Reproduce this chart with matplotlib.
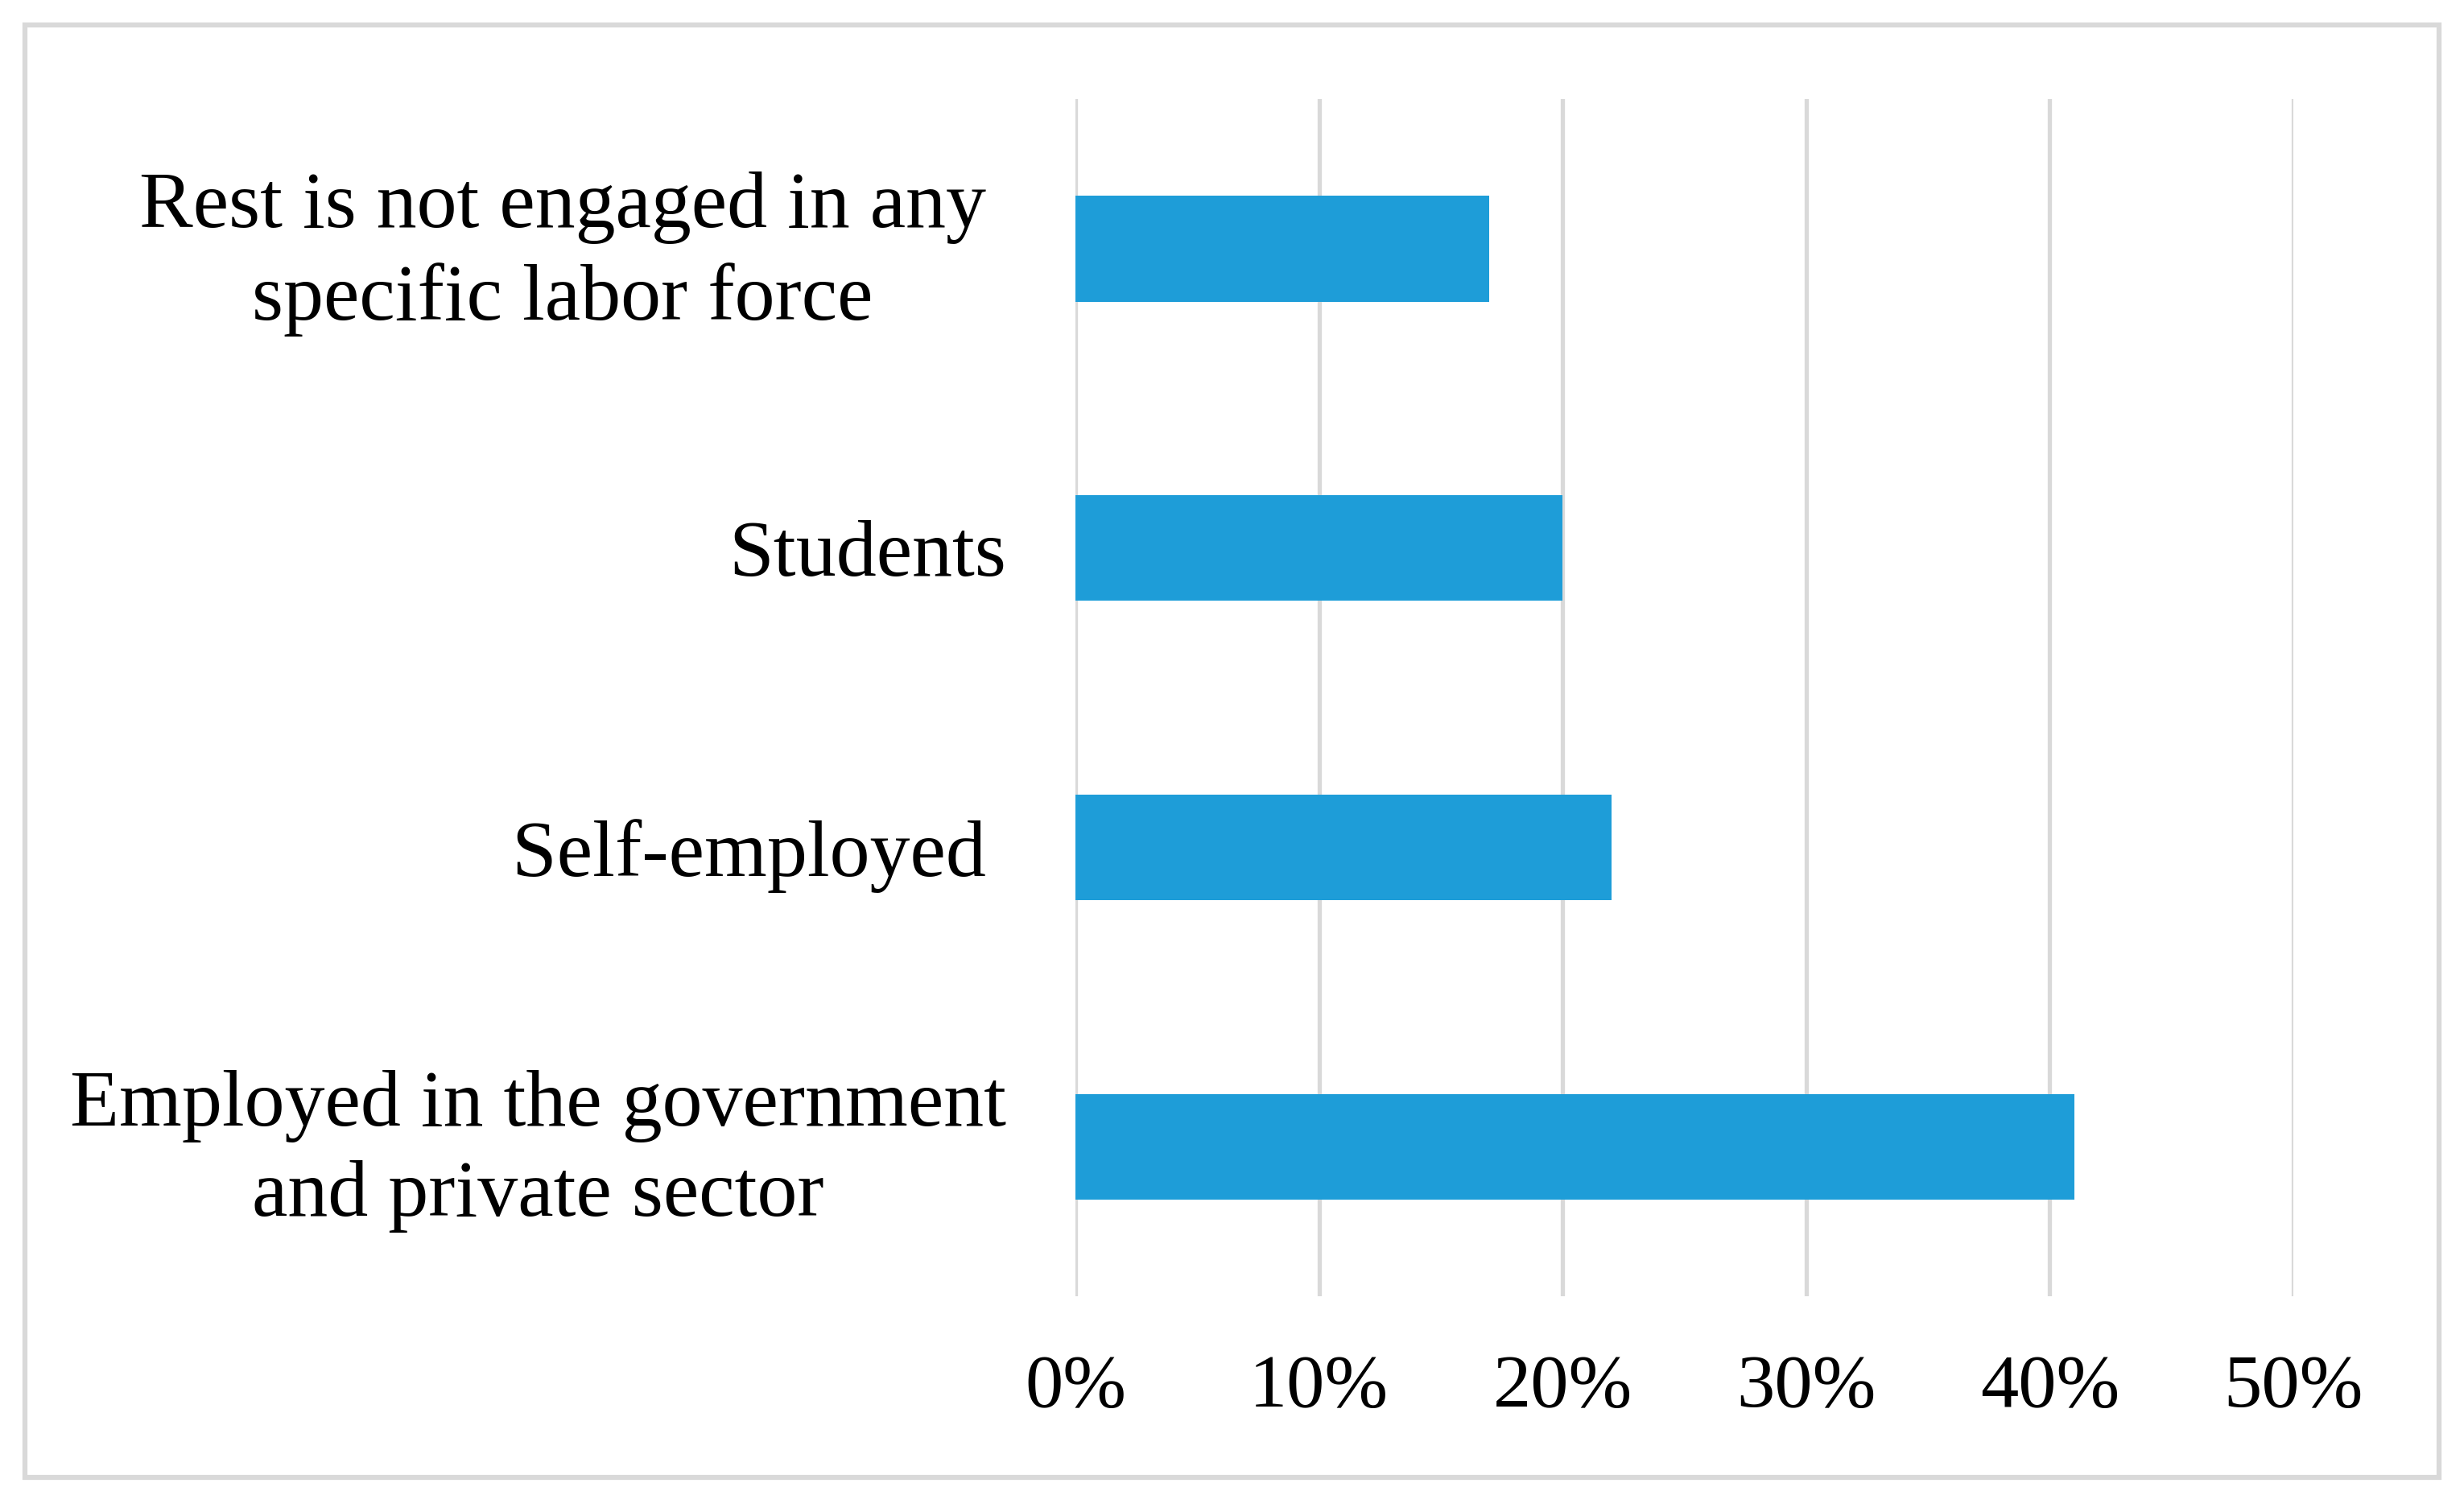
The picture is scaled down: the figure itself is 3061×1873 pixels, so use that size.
import matplotlib.pyplot as plt
from matplotlib.patches import Rectangle
from matplotlib.ticker import FuncFormatter
from matplotlib.transforms import ScaledTranslation

categories = ["Employed in the government\nand private sector",
              "Self-employed ",
              "Students",
              "Rest is not engaged in any \nspecific labor force "]
values = [0.41, 0.22, 0.20, 0.17]
xticks = [0.0, 0.1, 0.2, 0.3, 0.4, 0.5]

bar_color = "#1e9dd8"
grid_color = "#d9d9d9"

plt.rcParams['font.family'] = ['Liberation Serif', 'DejaVu Serif']

fig = plt.figure(figsize=(30.61, 18.73), dpi=100)
ax = fig.add_axes([0.4365, 0.1404, 0.9307 - 0.4365, 0.9343 - 0.1404])

ax.barh(range(len(categories)), values, height=0.353, color=bar_color, zorder=3)

ax.set_xlim(0, 0.5)
ax.set_ylim(-0.5, len(categories) - 0.5)
ax.set_xticks(xticks)
ax.xaxis.set_major_formatter(FuncFormatter(lambda v, p: "%d%%" % round(v * 100)))
ax.set_yticks(range(len(categories)))
ax.set_yticklabels(categories, multialignment='center', linespacing=1.32)

ax.grid(axis='x', color=grid_color, linewidth=3.8, zorder=0)
for s in ax.spines.values():
    s.set_visible(False)

ax.tick_params(axis='x', length=0, pad=52, labelsize=68)
ax.tick_params(axis='y', length=0, pad=62, labelsize=72)

# two-line labels sit a little higher in the original
for lab in ax.get_yticklabels():
    if "\n" in lab.get_text():
        lab.set_transform(lab.get_transform() + ScaledTranslation(0, 11 / 72, fig.dpi_scale_trans))

# outer frame
fig.patches.append(Rectangle((31 / 3061, 1 - 1835 / 1873), 2999 / 3061, 1804 / 1873,
                             transform=fig.transFigure, fill=False,
                             edgecolor=grid_color, linewidth=4.5))

fig.savefig("out.png", dpi=100)
